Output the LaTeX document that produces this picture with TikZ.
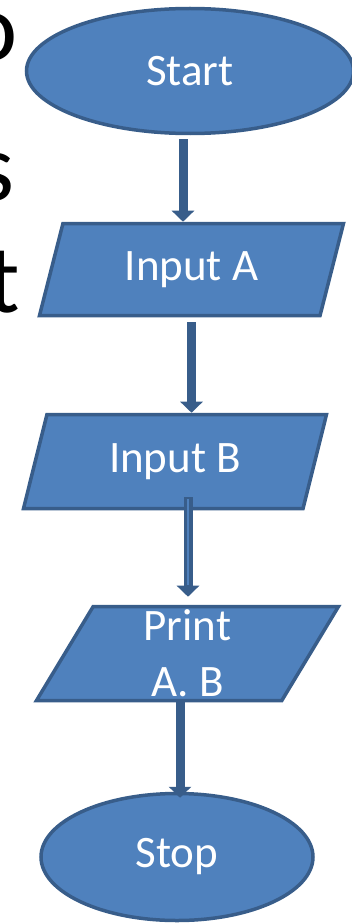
\documentclass[tikz,border=0pt]{standalone}
\usepackage{fontspec}
\setmainfont{Carlito}
\usetikzlibrary{shapes.geometric,arrows.meta}
\definecolor{boxfill}{HTML}{4F81BD}
\definecolor{boxline}{HTML}{385D8A}

\begin{document}
\begin{tikzpicture}[x=1pt, y=-1pt,
    termnode/.style={ellipse, draw=boxline, fill=boxfill, line width=3.5pt, text=white, inner sep=0pt, font=\fontsize{45}{54}\selectfont},
    ionode/.style={trapezium, trapezium left angle=57, trapezium right angle=123, trapezium stretches body, draw=boxline, fill=boxfill, line width=3.5pt, text=white, inner sep=0pt, align=center, font=\fontsize{45}{56}\selectfont},
    flowline/.style={draw=boxline, line width=9pt, -{Triangle[width=22pt,length=11pt]}},
    bigletter/.style={anchor=base east, inner sep=0pt, font=\fontsize{97}{110}\selectfont}]
    \useasboundingbox (0,0) rectangle (351,923);

    %Letters cut at the left edge
    \node[bigletter] (lo) at (18,61)  {o};
    \node[bigletter] (ls) at (15,200) {s};
    \node[bigletter] (lt) at (20,312) {t};

    %Nodes
    \node[termnode, minimum width=327pt, minimum height=125pt] (start) at (190,71)    {Start};
    \node[ionode,   minimum width=304pt, minimum height=92pt]  (inA)   at (191.5,269.5) {Input A};
    \node[ionode,   minimum width=303pt, minimum height=94pt]  (inB)   at (175,461.5) {Input B};
    \node[ionode,   minimum width=302pt, minimum height=94pt]  (pr)    at (187.5,653.5) {Print\\A. B};
    \node[termnode, minimum width=272pt, minimum height=127pt] (stop)  at (177,857)   {Stop};

    %Lines
    \draw[flowline] ([xshift=-7pt,yshift=-4pt]start.south) -- ([xshift=-7pt]start.south |- inA.north);
    \draw[flowline] ([yshift=-5pt]inA.south) -- (inA.south |- inB.north);
    \draw[flowline] ([xshift=13pt,yshift=13pt]inB.south) -- ([xshift=13pt,yshift=8pt]inB.south |- pr.north);
    \draw[boxfill, line width=2.5pt] ([xshift=13pt,yshift=11pt]inB.south) -- ([xshift=13pt,yshift=20pt]inB.south |- pr.north);
    \draw[flowline] ([xshift=-7.5pt]pr.south) -- ([xshift=-7.5pt,yshift=-6pt]pr.south |- stop.north);
\end{tikzpicture}
\end{document}
